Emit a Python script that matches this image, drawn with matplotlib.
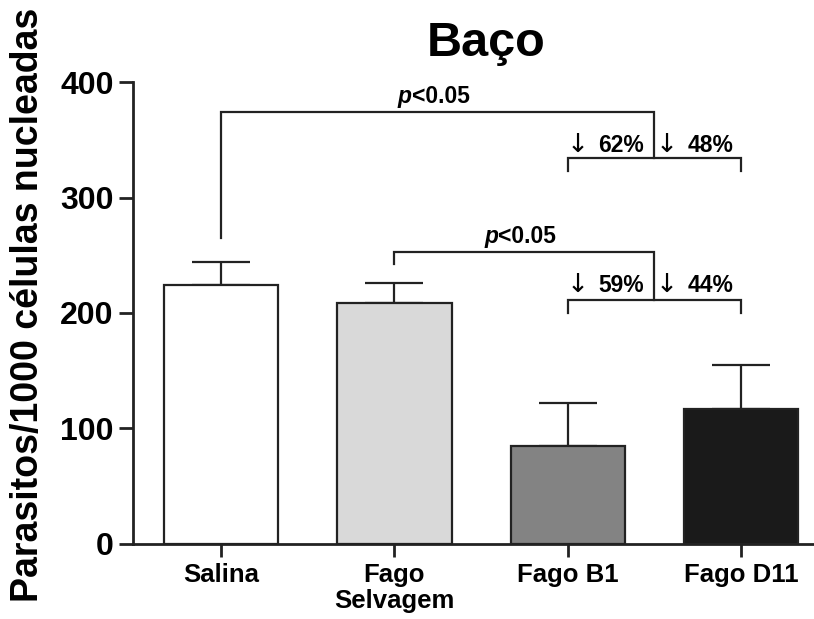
import matplotlib
matplotlib.use('Agg')
import matplotlib.pyplot as plt
import numpy as np

plt.rcParams['font.family'] = ['Liberation Sans', 'DejaVu Sans']
plt.rcParams['font.weight'] = 'bold'

# data
categories = ['Salina', 'Fago\nSelvagem', 'Fago B1', 'Fago D11']
means = [224, 209, 85, 117]
sem = [20, 17, 37, 38]
bar_colors = ['#ffffff', '#d9d9d9', '#838383', '#1a1a1a']
reductions_top = ['62%', '48%']
reductions_low = ['59%', '44%']

ink = '#222222'
lw = 1.6

fig = plt.figure(figsize=(8.14, 6.19), dpi=100)
ax = fig.add_axes([0.1634, 0.1212, 0.8366, 0.7463])

x = np.arange(len(categories))
ax.bar(x, means, width=0.66, color=bar_colors, edgecolor=ink, linewidth=lw, zorder=2)
ax.errorbar(x, means, yerr=[np.zeros(len(sem)), sem], fmt='none',
            ecolor=ink, elinewidth=lw, capsize=21, capthick=lw, zorder=1)

ax.set_xlim(-0.507, 3.42)
ax.set_ylim(0, 400)
ax.set_yticks([0, 100, 200, 300, 400])
ax.set_xticks(x)
ax.set_xticklabels(categories, fontsize=18.5, fontweight='bold', linespacing=1.1)
for lab in ax.get_yticklabels():
    lab.set_fontsize(23)
    lab.set_fontweight('bold')

for s in ['top', 'right']:
    ax.spines[s].set_visible(False)
for s in ['left', 'bottom']:
    ax.spines[s].set_linewidth(2)
    ax.spines[s].set_color(ink)
ax.tick_params(axis='y', length=10, width=2, color=ink, pad=4)
ax.tick_params(axis='x', length=9, width=2, color=ink, pad=5)


def bracket(x0, y0, ytop, x1, ylow, drop, tcenter, ttop):
    # line from x0 up to ytop, across to x1, down to lower bracket over bars 2 and 3
    ax.plot([x0, x0, x1, x1], [y0, ytop, ytop, ylow], color=ink, lw=lw,
            solid_joinstyle='miter', clip_on=False)
    ax.plot([2, 2, 3, 3], [ylow - drop, ylow, ylow, ylow - drop], color=ink, lw=lw,
            solid_joinstyle='miter', clip_on=False)
    ax.text(tcenter - 0.15, ttop, 'p', fontsize=16.5, fontweight='bold',
            fontstyle='italic', ha='right', va='baseline')
    ax.text(tcenter - 0.15, ttop, '<0.05', fontsize=16.5, fontweight='bold',
            ha='left', va='baseline')


bracket(0, 265, 374, 2.5, 334, 11, 1.25, 382)
bracket(1, 242, 252.5, 2.5, 211, 11, 1.75, 260.5)

pct_texts = []
for (a, b), yb in [(reductions_top, 339.5), (reductions_low, 218)]:
    pct_texts.append(ax.text(2.44, yb, a, fontsize=16.5, fontweight='bold',
                             ha='right', va='baseline'))
    pct_texts.append(ax.text(2.69, yb, b, fontsize=16.5, fontweight='bold',
                             ha='left', va='baseline'))

fig.text(486 / 814, 1 - 56 / 619, 'Baço', fontsize=35, fontweight='bold',
         ha='center', va='baseline')
fig.text(28 / 814, 1 - 305 / 619, 'Parasitos/1000 células nucleadas', fontsize=27,
         fontweight='bold', rotation=90, ha='center', va='center')

# thin, tall arrows placed just left of each percentage
fig.canvas.draw()
inv = ax.transData.inverted()
for t in pct_texts:
    bb = t.get_window_extent()
    xd, _ = inv.transform((bb.x0 - 10, bb.y0))
    ax.text(xd, t.get_position()[1], '\u2193', family='DejaVu Sans', fontweight='normal',
            fontsize=19, ha='right', va='baseline')

fig.savefig('out.png', dpi=100)
